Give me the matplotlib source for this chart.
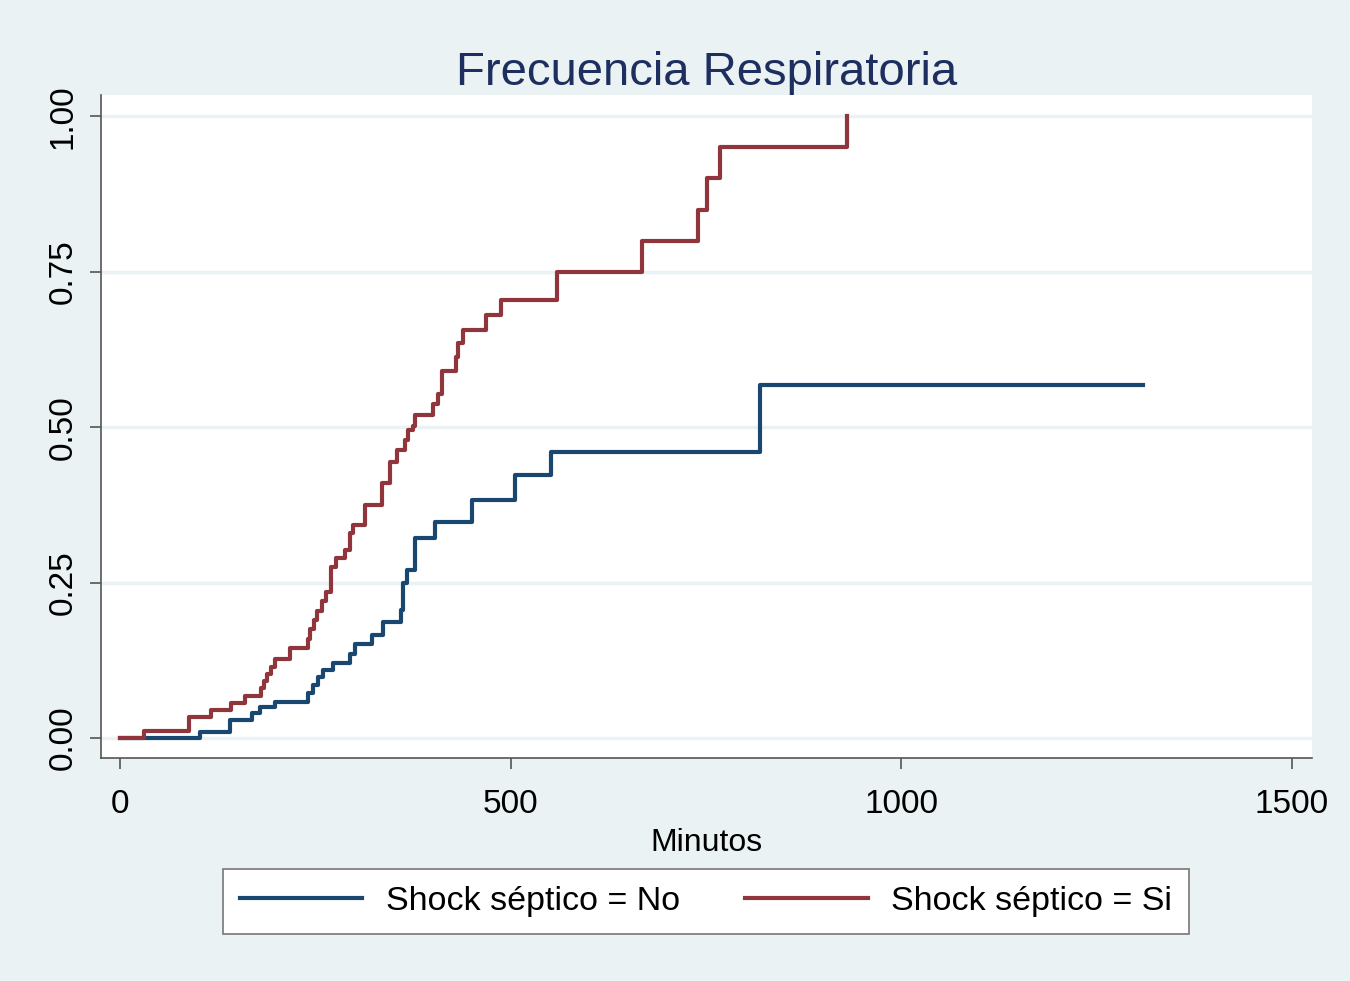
import numpy as np
import matplotlib
matplotlib.use('Agg')
from matplotlib import pyplot as plt

plt.rcParams['font.family'] = ['Liberation Sans', 'DejaVu Sans']

# Kaplan-Meier style failure curves (time in minutes, cumulative value)
t_no = [0, 102, 141, 169, 179, 198, 241, 247, 253, 260, 273, 294, 301, 322, 337,
        360, 362, 368, 377, 403, 450, 505, 552, 819, 1309]
y_no = [0, 0.010, 0.029, 0.040, 0.050, 0.058, 0.072, 0.086, 0.098, 0.110, 0.120,
        0.136, 0.152, 0.166, 0.187, 0.206, 0.249, 0.270, 0.321, 0.348, 0.383,
        0.423, 0.460, 0.567, 0.567]

t_si = [0, 31, 88, 116, 142, 160, 180, 184, 188, 193, 198, 218, 241, 243, 248,
        252, 258, 264, 270, 277, 288, 294, 298, 313, 335, 346, 354, 365, 369,
        375, 378, 401, 407, 412, 430, 433, 439, 469, 488, 559, 668, 740, 751,
        768, 930]
y_si = [0, 0.011, 0.034, 0.045, 0.056, 0.068, 0.080, 0.092, 0.103, 0.115, 0.128,
        0.145, 0.160, 0.175, 0.190, 0.205, 0.220, 0.235, 0.275, 0.289, 0.302,
        0.330, 0.342, 0.375, 0.410, 0.444, 0.463, 0.479, 0.495, 0.502, 0.519,
        0.538, 0.554, 0.590, 0.613, 0.635, 0.656, 0.680, 0.704, 0.750, 0.800,
        0.849, 0.900, 0.950, 1.000]

labels = ['Shock séptico = No', 'Shock séptico = Si']
x_ticks = [0, 500, 1000, 1500]
y_ticks = [0.00, 0.25, 0.50, 0.75, 1.00]

BG = '#eaf2f3'
BLUE = '#1a476f'
RED = '#90353b'

fig = plt.figure(figsize=(13.5, 9.81), dpi=100, facecolor=BG)
ax = fig.add_axes([0.0748, 0.2273, 0.897, 0.6758])
ax.set_facecolor('white')

for yt in y_ticks:
    ax.axhline(yt, color=BG, lw=2.5, zorder=1)

ax.plot(t_no, y_no, drawstyle='steps-post', color=BLUE, lw=3, label=labels[0], zorder=3)
ax.plot(t_si, y_si, drawstyle='steps-post', color=RED, lw=3, label=labels[1], zorder=3)

ax.set_xlim(-24.3, 1525.6)
ax.set_ylim(-0.032, 1.034)
ax.set_xticks(x_ticks)
ax.set_yticks(y_ticks)
ax.set_yticklabels(['%.2f' % v for v in y_ticks], rotation=90, va='center')
ax.tick_params(axis='both', labelsize=24, length=8, width=1.2, color='#555555')
ax.tick_params(axis='x', pad=14)
ax.tick_params(axis='y', pad=8)

for side in ['top', 'right']:
    ax.spines[side].set_visible(False)
for side in ['left', 'bottom']:
    ax.spines[side].set_color('#555555')
    ax.spines[side].set_linewidth(1.2)

ax.set_xlabel('Minutos', fontsize=23, labelpad=6)
ax.set_title('Frecuencia Respiratoria', fontsize=34, color='#1e2f5f', pad=0)

leg = fig.legend(loc='center', bbox_to_anchor=(0.523, 0.0815), ncol=2, fontsize=24.5,
                 frameon=True, fancybox=False, edgecolor='#777777', handlelength=3.6,
                 columnspacing=1.9, borderpad=0.5, handletextpad=0.7, borderaxespad=0)
leg.get_frame().set_linewidth(1.2)
leg.get_frame().set_facecolor('white')
leg.get_frame().set_alpha(1)

fig.savefig('out.png', dpi=100, facecolor=BG)
